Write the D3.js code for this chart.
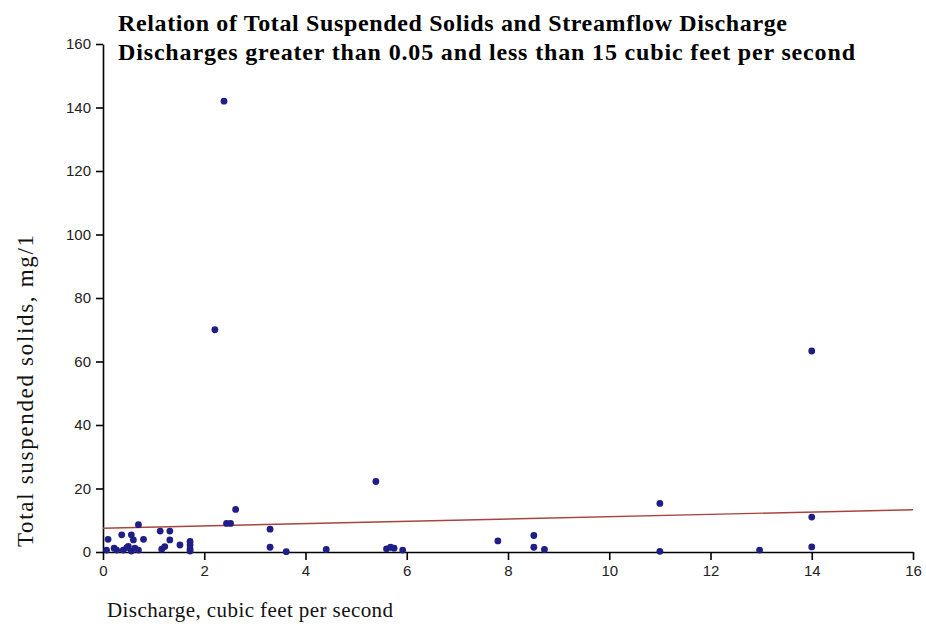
<!DOCTYPE html>
<html>
<head>
<meta charset="utf-8">
<script src="https://cdn.jsdelivr.net/npm/d3@7"></script>
<style>
  body { margin: 0; background: #fff; }
  svg { display: block; }
  .tick text { font-family: "Liberation Sans", Arial, sans-serif; font-size: 15px; fill: #222; }
  .axis path, .axis line { stroke: #000; stroke-width: 1.6; }
</style>
</head>
<body>
<svg id="chart" width="926" height="627"></svg>
<script>
// discharge (cfs) and total suspended solids (mg/l)
var discharge = [0.07, 0.10, 0.22, 0.27, 0.37, 0.40, 0.47, 0.50, 0.56, 0.56, 0.60, 0.63, 0.70, 0.70, 0.80,
                 1.13, 1.16, 1.22, 1.32, 1.32, 1.52, 1.72, 1.72, 1.72, 1.72,
                 2.21, 2.39, 2.44, 2.52, 2.62, 3.30, 3.30, 3.62, 4.41,
                 5.39, 5.60, 5.68, 5.75, 5.92, 7.80, 8.51, 8.51, 8.72,
                 11.0, 11.0, 12.97, 14.0, 14.0, 14.0];
var tss = [0.6, 4.0, 1.2, 0.6, 5.4, 0.6, 1.4, 1.8, 5.4, 0.3, 3.8, 1.2, 8.6, 0.6, 4.0,
           6.6, 0.9, 1.7, 6.6, 3.8, 2.2, 3.3, 2.2, 1.0, 0.3,
           70, 142, 9.0, 9.0, 13.4, 7.2, 1.5, 0.1, 0.8,
           22.2, 1.0, 1.5, 1.2, 0.6, 3.5, 5.2, 1.5, 0.8,
           15.3, 0.2, 0.6, 63.3, 11.0, 1.6];

// fitted line end points
var trendX = [0, 16];
var trendY = [7.5, 13.3];

var xTicks = [0, 2, 4, 6, 8, 10, 12, 14, 16];
var yTicks = [0, 20, 40, 60, 80, 100, 120, 140, 160];

var titleLines = ["Relation of Total Suspended Solids and Streamflow Discharge",
                  "Discharges greater than 0.05 and less than 15 cubic feet per second"];

const svg = d3.select('svg#chart');

const x = d3.scaleLinear().domain([0, 16]).range([103, 913]);
const y = d3.scaleLinear().domain([0, 160]).range([552, 44]);

// axes
svg.append('g')
  .attr('class', 'axis')
  .attr('transform', 'translate(0,' + y(0) + ')')
  .call(d3.axisBottom(x).tickValues(xTicks).tickSize(8).tickSizeOuter(0).tickPadding(5).tickFormat(d3.format('d')));

svg.append('g')
  .attr('class', 'axis')
  .attr('transform', 'translate(' + x(0) + ',0)')
  .call(d3.axisLeft(y).tickValues(yTicks).tickSize(7).tickSizeOuter(0).tickPadding(5).tickFormat(d3.format('d')));

// trend line
const pts = trendX.map((d, i) => [d, trendY[i]]);
svg.append('path')
  .datum(pts)
  .attr('fill', 'none')
  .attr('stroke', '#a8443f')
  .attr('stroke-width', 1.4)
  .attr('d', d3.line().x(d => x(d[0])).y(d => y(d[1])));

// points
const data = discharge.map((d, i) => ({ q: d, s: tss[i] }));
svg.selectAll('circle.pt')
  .data(data)
  .enter().append('circle')
  .attr('class', 'pt')
  .attr('cx', d => x(d.q))
  .attr('cy', d => y(d.s))
  .attr('r', 3.4)
  .attr('fill', '#1e1e86');

// title
svg.selectAll('text.title')
  .data(titleLines)
  .enter().append('text')
  .attr('class', 'title')
  .attr('x', 118)
  .attr('y', (d, i) => 31 + i * 29)
  .attr('textLength', (d, i) => i === 0 ? 669 : 737)
  .attr('lengthAdjust', 'spacing')
  .style('font-family', '"Liberation Serif", "Times New Roman", serif')
  .style('font-weight', 'bold')
  .style('font-size', '24px')
  .attr('fill', '#000')
  .text(d => d);

// axis titles
svg.append('text')
  .attr('x', 107)
  .attr('y', 617)
  .attr('textLength', 286)
  .attr('lengthAdjust', 'spacing')
  .style('font-family', '"Liberation Serif", "Times New Roman", serif')
  .style('font-size', '21px')
  .attr('fill', '#111')
  .text('Discharge, cubic feet per second');

svg.append('text')
  .attr('transform', 'translate(33,547) rotate(-90)')
  .attr('textLength', 312)
  .attr('lengthAdjust', 'spacing')
  .style('font-family', '"Liberation Serif", "Times New Roman", serif')
  .style('font-size', '23px')
  .attr('fill', '#111')
  .text('Total suspended solids, mg/1');
</script>
</body>
</html>
